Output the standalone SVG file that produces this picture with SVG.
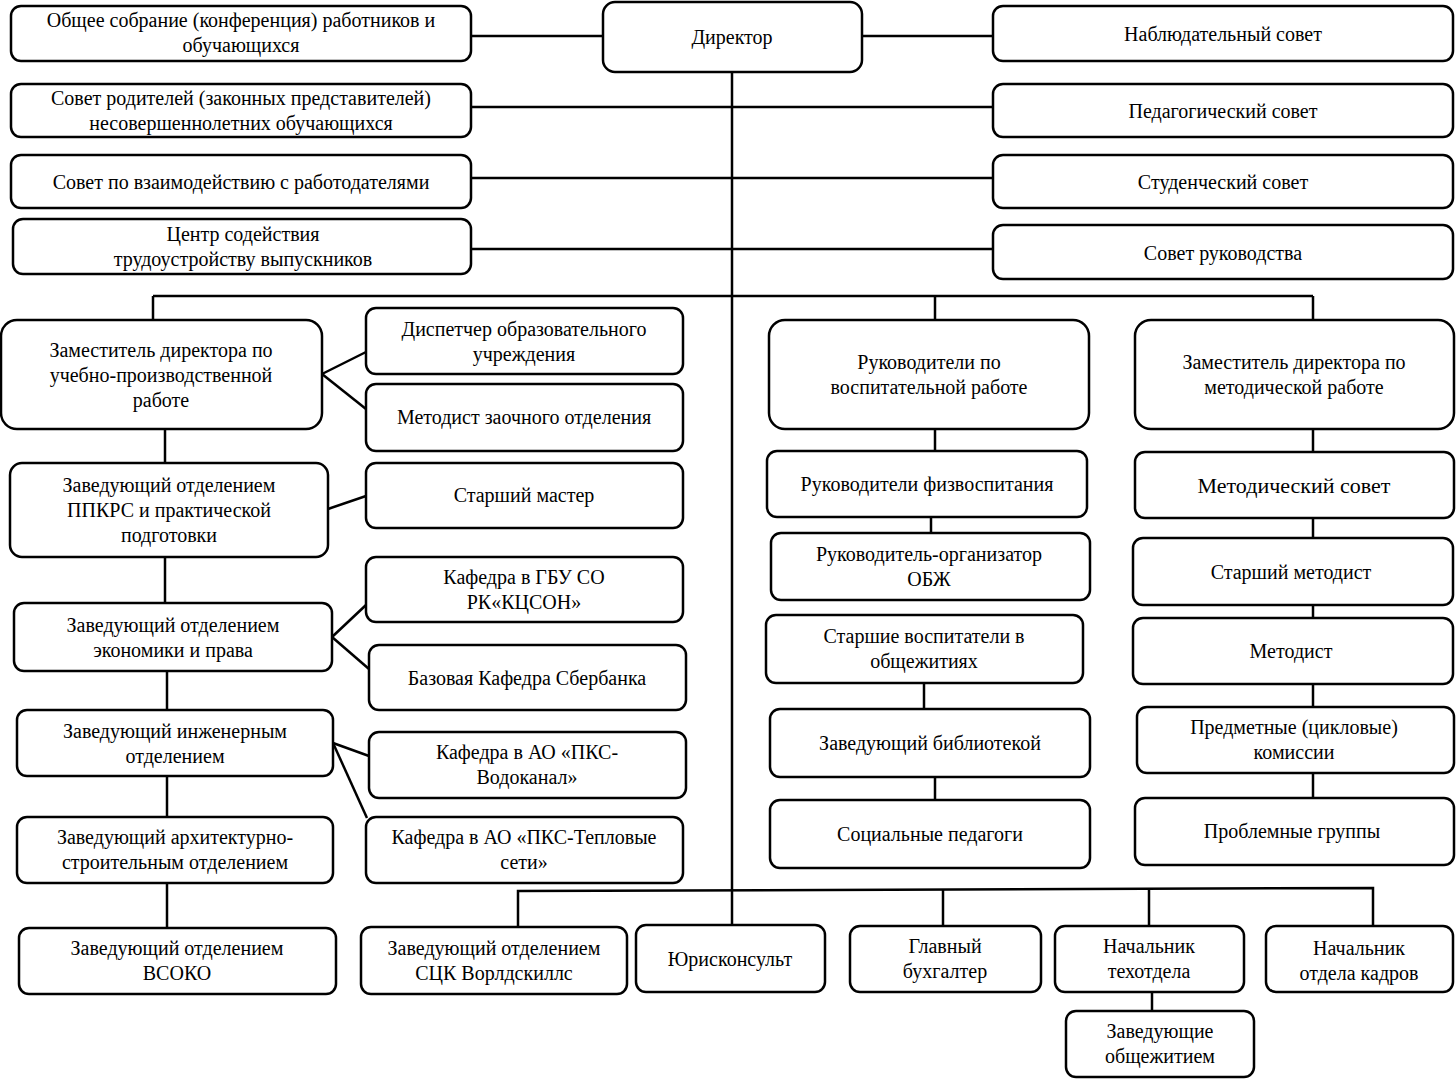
<svg xmlns="http://www.w3.org/2000/svg" width="1456" height="1080" viewBox="0 0 1456 1080">
<style>
.n rect{fill:#fff;stroke:#000;stroke-width:2.5}
.n text{font-family:"Liberation Serif","Times New Roman",serif;font-size:20px;fill:#000;text-anchor:middle}
.c line,.c polyline{stroke:#000;stroke-width:2.5;fill:none}
</style>
<rect width="1456" height="1080" fill="#fff"/>
<g id="connectors" class="c">
<line x1="732" y1="72" x2="732" y2="925"/>
<line x1="471" y1="36" x2="603" y2="36"/>
<line x1="862" y1="36" x2="993" y2="36"/>
<line x1="471" y1="107" x2="993" y2="107"/>
<line x1="471" y1="178" x2="993" y2="178"/>
<line x1="471" y1="249" x2="993" y2="249"/>
<line x1="153" y1="296" x2="1313" y2="296"/>
<line x1="153" y1="296" x2="153" y2="320"/>
<line x1="935" y1="296" x2="935" y2="320"/>
<line x1="1313" y1="296" x2="1313" y2="320"/>
<line x1="322" y1="374" x2="366" y2="352"/>
<line x1="322" y1="374" x2="366" y2="409"/>
<line x1="165" y1="429" x2="165" y2="463"/>
<line x1="328" y1="509" x2="366" y2="496"/>
<line x1="165" y1="557" x2="165" y2="603"/>
<line x1="332" y1="637" x2="366" y2="605"/>
<line x1="332" y1="637" x2="369" y2="669"/>
<line x1="167" y1="671" x2="167" y2="710"/>
<line x1="333" y1="743" x2="369" y2="756"/>
<line x1="333" y1="743" x2="367" y2="818"/>
<line x1="167" y1="776" x2="167" y2="817"/>
<line x1="167" y1="883" x2="167" y2="928"/>
<polyline points="518,927 518,891 1373,888 1373,926"/>
<line x1="943" y1="890" x2="943" y2="926"/>
<line x1="1149" y1="889" x2="1149" y2="926"/>
<line x1="1152" y1="992" x2="1152" y2="1011"/>
<line x1="935" y1="429" x2="935" y2="451"/>
<line x1="931" y1="517" x2="931" y2="533"/>
<line x1="924" y1="683" x2="924" y2="709"/>
<line x1="935" y1="777" x2="935" y2="800"/>
<line x1="1313" y1="429" x2="1313" y2="452"/>
<line x1="1313" y1="518" x2="1313" y2="538"/>
<line x1="1313" y1="605" x2="1313" y2="618"/>
<line x1="1313" y1="684" x2="1313" y2="707"/>
<line x1="1313" y1="773" x2="1313" y2="798"/>
</g>
<g id="director" class="n"><rect x="603" y="2" width="259" height="70" rx="12"/><text x="732" y="44">Директор</text></g>
<g id="obshchee" class="n"><rect x="11" y="6" width="460" height="55" rx="10"/><text x="241" y="27">Общее собрание (конференция) работников и</text><text x="241" y="52">обучающихся</text></g>
<g id="roditeli" class="n"><rect x="11" y="84" width="460" height="53" rx="10"/><text x="241" y="105">Совет родителей (законных представителей)</text><text x="241" y="130">несовершеннолетних обучающихся</text></g>
<g id="vzaimod" class="n"><rect x="11" y="155" width="460" height="53" rx="10"/><text x="241" y="189">Совет по взаимодействию с работодателями</text></g>
<g id="centr" class="n"><rect x="13" y="219" width="458" height="55" rx="10"/><text x="243" y="241">Центр содействия</text><text x="243" y="266">трудоустройству  выпускников</text></g>
<g id="nabl" class="n"><rect x="993" y="6" width="460" height="55" rx="10"/><text x="1223" y="41">Наблюдательный совет</text></g>
<g id="ped" class="n"><rect x="993" y="84" width="460" height="53" rx="10"/><text x="1223" y="118">Педагогический совет</text></g>
<g id="stud" class="n"><rect x="993" y="155" width="460" height="53" rx="10"/><text x="1223" y="189">Студенческий совет</text></g>
<g id="rukovodstvo" class="n"><rect x="993" y="225" width="460" height="54" rx="10"/><text x="1223" y="260">Совет руководства</text></g>
<g id="zam-upr" class="n"><rect x="1" y="320" width="321" height="109" rx="16"/><text x="161" y="357">Заместитель директора по</text><text x="161" y="382">учебно-производственной</text><text x="161" y="407">работе</text></g>
<g id="dispetcher" class="n"><rect x="366" y="308" width="317" height="66" rx="10"/><text x="524" y="336">Диспетчер образовательного</text><text x="524" y="361">учреждения</text></g>
<g id="metodist-zaoch" class="n"><rect x="366" y="384" width="317" height="67" rx="10"/><text x="524" y="424">Методист заочного отделения</text></g>
<g id="ppkrs" class="n"><rect x="10" y="463" width="318" height="94" rx="12"/><text x="169" y="492">Заведующий отделением</text><text x="169" y="517">ППКРС и  практической</text><text x="169" y="542">подготовки</text></g>
<g id="st-master" class="n"><rect x="366" y="463" width="317" height="65" rx="10"/><text x="524" y="502">Старший мастер</text></g>
<g id="kaf-gbu" class="n"><rect x="366" y="557" width="317" height="65" rx="10"/><text x="524" y="584">Кафедра в ГБУ СО</text><text x="524" y="609">РК«КЦСОН»</text></g>
<g id="ekonom" class="n"><rect x="14" y="603" width="318" height="68" rx="10"/><text x="173" y="632">Заведующий отделением</text><text x="173" y="657">экономики и права</text></g>
<g id="sber" class="n"><rect x="369" y="645" width="317" height="65" rx="10"/><text x="527" y="685">Базовая Кафедра Сбербанка</text></g>
<g id="inzh" class="n"><rect x="17" y="710" width="316" height="66" rx="10"/><text x="175" y="738">Заведующий инженерным</text><text x="175" y="763">отделением</text></g>
<g id="vodokanal" class="n"><rect x="369" y="732" width="317" height="66" rx="10"/><text x="527" y="759">Кафедра в АО «ПКС-</text><text x="527" y="784">Водоканал»</text></g>
<g id="teplo" class="n"><rect x="366" y="817" width="317" height="66" rx="10"/><text x="524" y="844">Кафедра в АО «ПКС-Тепловые</text><text x="524" y="869">сети»</text></g>
<g id="arh" class="n"><rect x="17" y="817" width="316" height="66" rx="10"/><text x="175" y="844">Заведующий архитектурно-</text><text x="175" y="869">строительным отделением</text></g>
<g id="vsoko" class="n"><rect x="19" y="928" width="317" height="66" rx="10"/><text x="177" y="955">Заведующий отделением</text><text x="177" y="980">ВСОКО</text></g>
<g id="sck" class="n"><rect x="361" y="927" width="266" height="67" rx="10"/><text x="494" y="955">Заведующий отделением</text><text x="494" y="980">СЦК Ворлдскиллс</text></g>
<g id="yurist" class="n"><rect x="636" y="925" width="189" height="67" rx="10"/><text x="730" y="966">Юрисконсульт</text></g>
<g id="buh" class="n"><rect x="850" y="926" width="191" height="66" rx="10"/><text x="945" y="953">Главный</text><text x="945" y="978">бухгалтер</text></g>
<g id="tehotdel" class="n"><rect x="1055" y="926" width="189" height="66" rx="10"/><text x="1149" y="953">Начальник</text><text x="1149" y="978">техотдела</text></g>
<g id="kadry" class="n"><rect x="1266" y="926" width="187" height="66" rx="10"/><text x="1359" y="955">Начальник</text><text x="1359" y="980">отдела кадров</text></g>
<g id="obshchezhitie" class="n"><rect x="1066" y="1011" width="188" height="66" rx="10"/><text x="1160" y="1038">Заведующие</text><text x="1160" y="1063">общежитием</text></g>
<g id="ruk-vosp" class="n"><rect x="769" y="320" width="320" height="109" rx="16"/><text x="929" y="369">Руководители по</text><text x="929" y="394">воспитательной работе</text></g>
<g id="fizvosp" class="n"><rect x="767" y="451" width="320" height="66" rx="10"/><text x="927" y="491">Руководители физвоспитания</text></g>
<g id="obzh" class="n"><rect x="771" y="533" width="319" height="67" rx="10"/><text x="929" y="561">Руководитель-организатор</text><text x="929" y="586">ОБЖ</text></g>
<g id="st-vosp" class="n"><rect x="766" y="615" width="317" height="68" rx="10"/><text x="924" y="643">Старшие воспитатели в</text><text x="924" y="668">общежитиях</text></g>
<g id="biblio" class="n"><rect x="770" y="709" width="320" height="68" rx="10"/><text x="930" y="750">Заведующий библиотекой</text></g>
<g id="soc-ped" class="n"><rect x="770" y="800" width="320" height="68" rx="10"/><text x="930" y="841">Социальные педагоги</text></g>
<g id="zam-metod" class="n"><rect x="1135" y="320" width="319" height="109" rx="16"/><text x="1294" y="369">Заместитель директора по</text><text x="1294" y="394">методической работе</text></g>
<g id="metod-sovet" class="n"><rect x="1135" y="452" width="319" height="66" rx="10"/><text x="1294" y="493" style="font-size:22px">Методический совет</text></g>
<g id="st-metodist" class="n"><rect x="1133" y="538" width="320" height="67" rx="10"/><text x="1291" y="579">Старший методист</text></g>
<g id="metodist" class="n"><rect x="1133" y="618" width="320" height="66" rx="10"/><text x="1291" y="658">Методист</text></g>
<g id="predmet" class="n"><rect x="1137" y="707" width="317" height="66" rx="10"/><text x="1294" y="734">Предметные (цикловые)</text><text x="1294" y="759">комиссии</text></g>
<g id="problem" class="n"><rect x="1135" y="798" width="319" height="67" rx="10"/><text x="1292" y="838">Проблемные группы</text></g>
</svg>
